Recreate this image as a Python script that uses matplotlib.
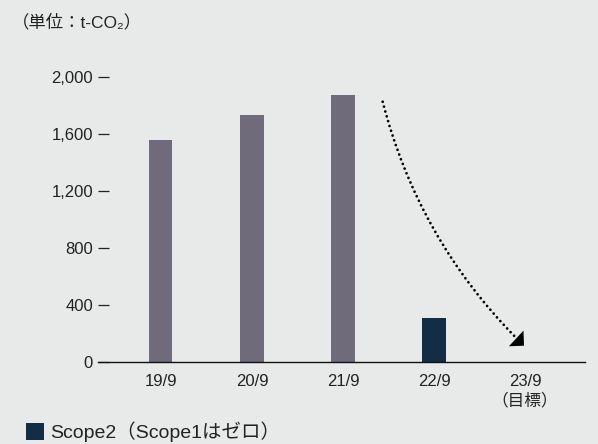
import matplotlib.pyplot as plt
from matplotlib.patches import Patch

plt.rcParams['font.family'] = ['Liberation Sans', 'Noto Sans CJK JP', 'DejaVu Sans']

years = ['19/9', '20/9', '21/9', '22/9', '23/9\n（目標）']
emissions = [1557, 1733, 1873, 306]
bar_colors = ['#6f6b7b', '#6f6b7b', '#6f6b7b', '#132d46']
yticks = [0, 400, 800, 1200, 1600, 2000]
ytick_labels = ['0', '400', '800', '1,200', '1,600', '2,000']

bg = '#e8eae9'
fig = plt.figure(figsize=(5.98, 4.44), dpi=100, facecolor=bg)
ax = fig.add_axes([98 / 598, 1 - 361.5 / 444, 487 / 598, 284.5 / 444])
ax.set_facecolor(bg)

ax.bar(range(len(emissions)), emissions, width=0.253, color=bar_colors)

ax.set_xlim(-0.692, 4.659)
ax.set_ylim(0, 2000)
ax.set_xticks(range(len(years)))
ax.set_xticklabels(years, fontsize=12, color='#222222', linespacing=1.25)
ax.set_yticks(yticks)
ax.set_yticklabels(ytick_labels, fontsize=12, color='#222222')
ax.tick_params(axis='x', length=0, pad=9)
ax.tick_params(axis='y', direction='in', length=8, width=0.9, color='#222222', pad=3.6)
for s in ['top', 'right', 'left']:
    ax.spines[s].set_visible(False)
ax.spines['bottom'].set_linewidth(1.0)
ax.spines['bottom'].set_color('#111111')

# dotted reduction curve towards the target year
start = (2.436, 1826)
tip = (3.989, 111)
ax.annotate('', xy=tip, xytext=start,
            arrowprops=dict(arrowstyle='-', connectionstyle='arc3,rad=0.14',
                            linestyle=(0, (0.01, 1.8)), linewidth=2.0,
                            capstyle='round', color='black',
                            shrinkA=0, shrinkB=8))
# solid head at the end of the curve
ax.annotate('', xy=tip, xytext=(-7, 6.5), textcoords='offset points',
            arrowprops=dict(arrowstyle='-|>,head_length=0.55,head_width=0.55',
                            linewidth=0, color='black',
                            shrinkA=0, shrinkB=0, mutation_scale=14))

fig.text(12 / 598, 1 - 22 / 444, '（単位：t-CO₂）', fontsize=12.5,
         color='#222222', va='center', ha='left')

handle = Patch(facecolor='#132d46', edgecolor='none')
fig.legend([handle], ['Scope2（Scope1はゼロ）'], loc='center left',
           bbox_to_anchor=(26 / 598, 1 - 432 / 444), frameon=False,
           fontsize=14, handlelength=0.95, handleheight=0.95,
           handletextpad=0.3, borderaxespad=0, borderpad=0,
           labelcolor='#222222')

fig.savefig('out.png', dpi=100, facecolor=bg)
